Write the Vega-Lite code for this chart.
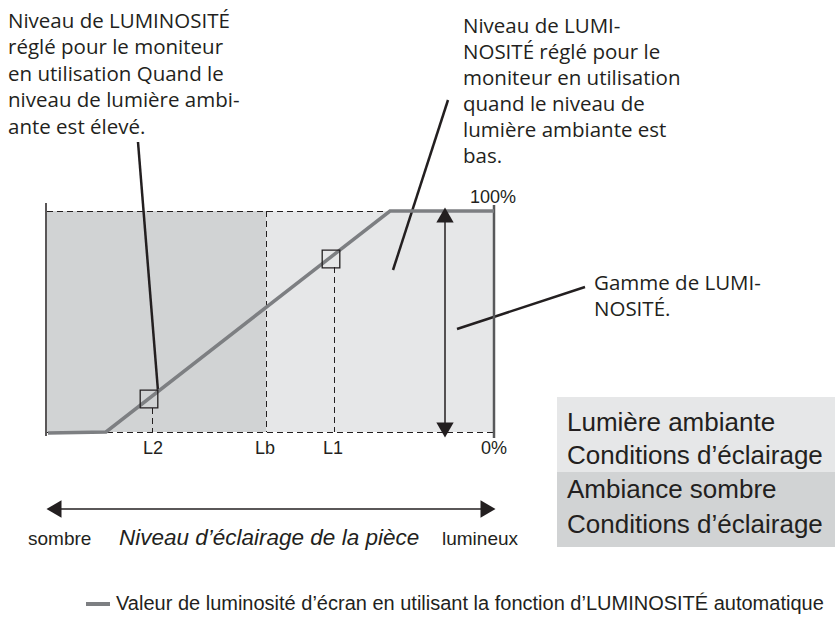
{
  "$schema": "https://vega.github.io/schema/vega-lite/v6.json",
  "width": 835,
  "height": 633,
  "padding": 0,
  "autosize": {"type": "fit", "contains": "padding"},
  "background": "white",
  "config": {"view": {"stroke": null}},
  "datasets": {
    "zones": [
      {"x": 47, "x2": 266, "y": 211, "y2": 432, "zone": "sombre"},
      {"x": 266, "x2": 494, "y": 211, "y2": 432, "zone": "clair"},
      {"x": 557, "x2": 835, "y": 397, "y2": 472, "zone": "clair"},
      {"x": 557, "x2": 835, "y": 472, "y2": 547, "zone": "sombre"}
    ],
    "dashed": [
      {"x": 47, "y": 211.5, "x2": 494, "y2": 211.5},
      {"x": 47, "y": 432.5, "x2": 494, "y2": 432.5},
      {"x": 266.5, "y": 211, "x2": 266.5, "y2": 432},
      {"x": 334.5, "y": 267, "x2": 334.5, "y2": 432},
      {"x": 152.5, "y": 408, "x2": 152.5, "y2": 432}
    ],
    "thin": [
      {"x": 46, "y": 203, "x2": 46, "y2": 436},
      {"x": 445, "y": 218, "x2": 445, "y2": 428},
      {"x": 52, "y": 509, "x2": 490, "y2": 509}
    ],
    "leaders": [
      {"x": 138, "y": 142, "x2": 158, "y2": 391},
      {"x": 448, "y": 100, "x2": 393, "y2": 270},
      {"x": 457, "y": 329, "x2": 585, "y2": 287}
    ],
    "rightEdge": [
      {"x": 494, "y": 205, "x2": 494, "y2": 438}
    ],
    "curve": [
      {"x": 48, "y": 433},
      {"x": 106, "y": 432},
      {"x": 390, "y": 211},
      {"x": 494, "y": 211}
    ],
    "legendLine": [
      {"x": 86, "y": 604, "x2": 110, "y2": 604}
    ],
    "boxes": [
      {"x": 149, "y": 399},
      {"x": 331, "y": 259}
    ],
    "heads": [
      {"x": 445, "y": 215, "dir": "haut"},
      {"x": 445, "y": 430, "dir": "bas"},
      {"x": 54, "y": 509, "dir": "gauche"},
      {"x": 488, "y": 509, "dir": "droite"}
    ],
    "notes": [
      {"x": 8, "y": 21.5, "text": "Niveau de LUMINOSITÉ"},
      {"x": 8, "y": 48, "text": "réglé pour le moniteur"},
      {"x": 8, "y": 74.5, "text": "en utilisation Quand le"},
      {"x": 8, "y": 101, "text": "niveau de lumière ambi-"},
      {"x": 8, "y": 127.5, "text": "ante est élevé."},
      {"x": 463, "y": 27, "text": "Niveau de LUMI-"},
      {"x": 463, "y": 53, "text": "NOSITÉ réglé pour le"},
      {"x": 463, "y": 79, "text": "moniteur en utilisation"},
      {"x": 463, "y": 105, "text": "quand le niveau de"},
      {"x": 463, "y": 131, "text": "lumière ambiante est"},
      {"x": 463, "y": 157, "text": "bas."},
      {"x": 594, "y": 284, "text": "Gamme de LUMI-"},
      {"x": 594, "y": 310, "text": "NOSITÉ."}
    ],
    "ticks": [
      {"x": 153, "y": 449, "text": "L2"},
      {"x": 265, "y": 449, "text": "Lb"},
      {"x": 333, "y": 449, "text": "L1"},
      {"x": 494, "y": 449, "text": "0%"},
      {"x": 493, "y": 198, "text": "100%"}
    ],
    "plain": [
      {"x": 28, "y": 539, "text": "sombre"},
      {"x": 442, "y": 539, "text": "lumineux"}
    ],
    "legendText": [
      {"x": 116, "y": 604, "text": "Valeur de luminosité d’écran en utilisant la fonction d’LUMINOSITÉ automatique"}
    ],
    "italic": [
      {"x": 119, "y": 538, "text": "Niveau d’éclairage de la pièce"}
    ],
    "boxText": [
      {"x": 567, "y": 423, "text": "Lumière ambiante"},
      {"x": 567, "y": 456, "text": "Conditions d’éclairage"},
      {"x": 567, "y": 490, "text": "Ambiance sombre"},
      {"x": 567, "y": 525, "text": "Conditions d’éclairage"}
    ]
  },
  "layer": [
    {
      "data": {"name": "zones"},
      "mark": {"type": "rect"},
      "encoding": {
        "x": {"field": "x", "type": "quantitative", "scale": {"domain": [0, 835], "nice": false, "zero": false}, "axis": null},
        "x2": {"field": "x2"},
        "y": {"field": "y", "type": "quantitative", "scale": {"domain": [0, 633], "nice": false, "zero": false, "reverse": true}, "axis": null},
        "y2": {"field": "y2"},
        "color": {"field": "zone", "type": "nominal", "scale": {"domain": ["sombre", "clair"], "range": ["#d1d3d4", "#e6e7e8"]}, "legend": null}
      }
    },
    {
      "data": {"name": "dashed"},
      "mark": {"type": "rule", "color": "#231f20", "strokeWidth": 1, "strokeDash": [6, 4]},
      "encoding": {
        "x": {"field": "x", "type": "quantitative"},
        "y": {"field": "y", "type": "quantitative"},
        "x2": {"field": "x2"},
        "y2": {"field": "y2"}
      }
    },
    {
      "data": {"name": "thin"},
      "mark": {"type": "rule", "color": "#231f20", "strokeWidth": 1.5},
      "encoding": {
        "x": {"field": "x", "type": "quantitative"},
        "y": {"field": "y", "type": "quantitative"},
        "x2": {"field": "x2"},
        "y2": {"field": "y2"}
      }
    },
    {
      "data": {"name": "leaders"},
      "mark": {"type": "rule", "color": "#231f20", "strokeWidth": 2.5},
      "encoding": {
        "x": {"field": "x", "type": "quantitative"},
        "y": {"field": "y", "type": "quantitative"},
        "x2": {"field": "x2"},
        "y2": {"field": "y2"}
      }
    },
    {
      "data": {"name": "rightEdge"},
      "mark": {"type": "rule", "color": "#58595b", "strokeWidth": 2.5},
      "encoding": {
        "x": {"field": "x", "type": "quantitative"},
        "y": {"field": "y", "type": "quantitative"},
        "x2": {"field": "x2"},
        "y2": {"field": "y2"}
      }
    },
    {
      "data": {"name": "curve"},
      "mark": {"type": "line", "color": "#7d7f82", "strokeWidth": 3.5},
      "encoding": {
        "x": {"field": "x", "type": "quantitative"},
        "y": {"field": "y", "type": "quantitative"},
        "order": {"field": "x", "type": "quantitative"}
      }
    },
    {
      "data": {"name": "legendLine"},
      "mark": {"type": "rule", "color": "#7d7f82", "strokeWidth": 4},
      "encoding": {
        "x": {"field": "x", "type": "quantitative"},
        "y": {"field": "y", "type": "quantitative"},
        "x2": {"field": "x2"},
        "y2": {"field": "y2"}
      }
    },
    {
      "data": {"name": "boxes"},
      "mark": {"type": "point", "shape": "square", "size": 310, "filled": false, "stroke": "#231f20", "strokeWidth": 1.3, "opacity": 1},
      "encoding": {
        "x": {"field": "x", "type": "quantitative"},
        "y": {"field": "y", "type": "quantitative"}
      }
    },
    {
      "data": {"name": "heads"},
      "mark": {"type": "point", "filled": true, "color": "#231f20", "size": 300, "opacity": 1},
      "encoding": {
        "x": {"field": "x", "type": "quantitative"},
        "y": {"field": "y", "type": "quantitative"},
        "shape": {"field": "dir", "type": "nominal", "scale": {"domain": ["haut", "bas", "gauche", "droite"], "range": ["triangle-up", "triangle-down", "triangle-left", "triangle-right"]}, "legend": null}
      }
    },
    {
      "data": {"name": "notes"},
      "mark": {"type": "text", "align": "left", "baseline": "middle", "font": "Open Sans", "fontSize": 20.5, "color": "#231f20"},
      "encoding": {
        "x": {"field": "x", "type": "quantitative"},
        "y": {"field": "y", "type": "quantitative"},
        "text": {"field": "text"}
      }
    },
    {
      "data": {"name": "ticks"},
      "mark": {"type": "text", "align": "center", "baseline": "middle", "font": "Liberation Sans", "fontSize": 18, "color": "#231f20"},
      "encoding": {
        "x": {"field": "x", "type": "quantitative"},
        "y": {"field": "y", "type": "quantitative"},
        "text": {"field": "text"}
      }
    },
    {
      "data": {"name": "plain"},
      "mark": {"type": "text", "align": "left", "baseline": "middle", "font": "Liberation Sans", "fontSize": 19, "color": "#231f20"},
      "encoding": {
        "x": {"field": "x", "type": "quantitative"},
        "y": {"field": "y", "type": "quantitative"},
        "text": {"field": "text"}
      }
    },
    {
      "data": {"name": "legendText"},
      "mark": {"type": "text", "align": "left", "baseline": "middle", "font": "Liberation Sans", "fontSize": 20, "color": "#231f20"},
      "encoding": {
        "x": {"field": "x", "type": "quantitative"},
        "y": {"field": "y", "type": "quantitative"},
        "text": {"field": "text"}
      }
    },
    {
      "data": {"name": "italic"},
      "mark": {"type": "text", "align": "left", "baseline": "middle", "font": "Liberation Sans", "fontSize": 22.5, "fontStyle": "italic", "color": "#231f20"},
      "encoding": {
        "x": {"field": "x", "type": "quantitative"},
        "y": {"field": "y", "type": "quantitative"},
        "text": {"field": "text"}
      }
    },
    {
      "data": {"name": "boxText"},
      "mark": {"type": "text", "align": "left", "baseline": "middle", "font": "Liberation Sans", "fontSize": 26, "color": "#231f20"},
      "encoding": {
        "x": {"field": "x", "type": "quantitative"},
        "y": {"field": "y", "type": "quantitative"},
        "text": {"field": "text"}
      }
    }
  ]
}
